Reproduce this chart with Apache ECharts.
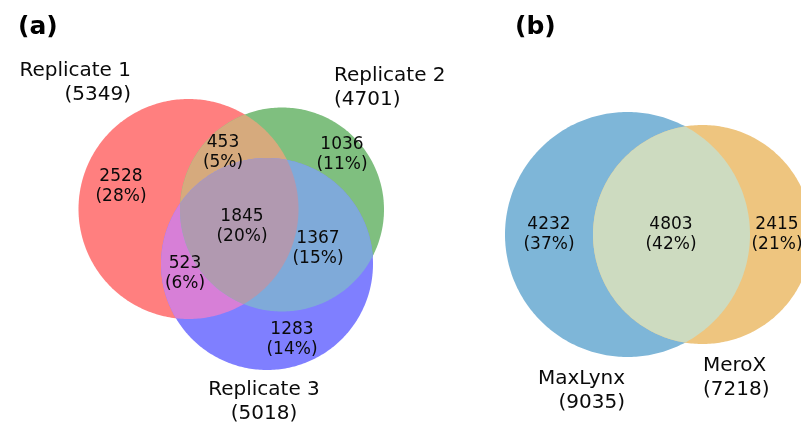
<!DOCTYPE html>
<html>
<head>
<meta charset="utf-8">
<script src="https://cdn.jsdelivr.net/npm/echarts@6/dist/echarts.min.js"></script>
<style>
  html, body { margin: 0; padding: 0; background: #fff; }
  #main { width: 801px; height: 423px; }
</style>
</head>
<body>
<div id="main"></div>
<script>
// panel (a): three replicates
const setNamesA = ['Replicate 1', 'Replicate 2', 'Replicate 3'];
const setTotalsA = [5349, 4701, 5018];
// regions: 1 only, 1&2, 2 only, 1&2&3, 2&3, 1&3, 3 only
const regionCountsA = [2528, 453, 1036, 1845, 1367, 523, 1283];
const regionPctA = [28, 5, 11, 20, 15, 6, 14];

// panel (b): two search engines
const setNamesB = ['MaxLynx', 'MeroX'];
const setTotalsB = [9035, 7218];
// regions: MaxLynx only, both, MeroX only
const regionCountsB = [4232, 4803, 2415];
const regionPctB = [37, 42, 21];

// layout (axis units = px)
const circlesA = [
  { x: 188.5, y: 209, r: 110 },
  { x: 282, y: 209.5, r: 102 },
  { x: 267, y: 264, r: 106 }
];
const circlesB = [
  { x: 627.5, y: 234.5, r: 122.5 },
  { x: 702.5, y: 234.5, r: 109.5 }
];
// painting order: whole circles, then pair overlaps, then the triple
const paintA = [
  { sets: [0], color: '#ff7f7f' },
  { sets: [1], color: '#7fbf7f' },
  { sets: [2], color: '#7f7fff' },
  { sets: [0, 1], color: '#d6aa7d' },
  { sets: [0, 2], color: '#d77fd7' },
  { sets: [1, 2], color: '#7faad9' },
  { sets: [0, 1, 2], color: '#b199b0' }
];
const paintB = [
  { sets: [0], color: '#7eb6d8' },
  { sets: [1], color: '#eec57f' },
  { sets: [0, 1], color: '#cddbc0' }
];
const regionPosA = [[121, 187], [223, 153], [342, 155], [242, 227], [318, 249], [185, 274], [292, 340]];
const regionPosB = [[549, 235], [671, 235], [777, 235]];
const setLabelPos = [
  { x: 131, y: 83, align: 'right' },
  { x: 334, y: 88, align: 'left' },
  { x: 264, y: 402, align: 'center' },
  { x: 625, y: 391, align: 'right' },
  { x: 703, y: 378, align: 'left' }
];

const FONT = 'DejaVu Sans';

function inCircle(p, c, tol) {
  return Math.hypot(p[0] - c.x, p[1] - c.y) <= c.r + tol;
}

function crossPoints(a, b) {
  const dx = b.x - a.x, dy = b.y - a.y;
  const d = Math.hypot(dx, dy);
  if (d > a.r + b.r || d < Math.abs(a.r - b.r)) return [];
  const l = (d * d + a.r * a.r - b.r * b.r) / (2 * d);
  const h = Math.sqrt(Math.max(0, a.r * a.r - l * l));
  const mx = a.x + dx * l / d, my = a.y + dy * l / d;
  return [[mx - dy * h / d, my + dx * h / d], [mx + dy * h / d, my - dx * h / d]];
}

// intersection of circles is convex: collect boundary samples and sort by angle
function regionOutline(cs) {
  const pts = [];
  cs.forEach((c, i) => {
    for (let k = 0; k < 360; k++) {
      const t = k * Math.PI / 180;
      const p = [c.x + c.r * Math.cos(t), c.y + c.r * Math.sin(t)];
      if (cs.every((o, j) => j === i || inCircle(p, o, 0))) pts.push(p);
    }
  });
  for (let i = 0; i < cs.length; i++) {
    for (let j = i + 1; j < cs.length; j++) {
      crossPoints(cs[i], cs[j]).forEach(p => {
        if (cs.every((o, k) => k === i || k === j || inCircle(p, o, 1e-6))) pts.push(p);
      });
    }
  }
  const cx = pts.reduce((s, p) => s + p[0], 0) / pts.length;
  const cy = pts.reduce((s, p) => s + p[1], 0) / pts.length;
  pts.sort((p, q) => Math.atan2(p[1] - cy, p[0] - cx) - Math.atan2(q[1] - cy, q[0] - cx));
  return pts;
}

function vennSeries(circles, paint) {
  return {
    type: 'custom',
    coordinateSystem: 'cartesian2d',
    silent: true,
    z: 1,
    data: paint.map((p, i) => [i]),
    renderItem: (params, api) => {
      const reg = paint[params.dataIndex];
      const pts = regionOutline(reg.sets.map(i => circles[i])).map(p => api.coord(p));
      return { type: 'polygon', shape: { points: pts }, style: { fill: reg.color } };
    }
  };
}

const regionTexts = []
  .concat(regionCountsA.map((v, i) => ({ pos: regionPosA[i], text: v + '\n(' + regionPctA[i] + '%)' })))
  .concat(regionCountsB.map((v, i) => ({ pos: regionPosB[i], text: v + '\n(' + regionPctB[i] + '%)' })));

const setTexts = setNamesA.concat(setNamesB).map((n, i) => ({
  name: n,
  total: setTotalsA.concat(setTotalsB)[i],
  place: setLabelPos[i]
}));

const chart = echarts.init(document.getElementById('main'), null, { renderer: 'canvas' });
chart.setOption({
  animation: false,
  backgroundColor: '#fff',
  title: [
    { text: '(a)', left: 13, top: 10, textStyle: { fontFamily: FONT, fontWeight: 'bold', fontSize: 25, color: '#000' } },
    { text: '(b)', left: 510, top: 10, textStyle: { fontFamily: FONT, fontWeight: 'bold', fontSize: 25, color: '#000' } }
  ],
  grid: { left: 0, right: 0, top: 0, bottom: 0 },
  xAxis: { type: 'value', min: 0, max: 801, show: false },
  yAxis: { type: 'value', min: 0, max: 423, inverse: true, show: false },
  series: [
    vennSeries(circlesA, paintA),
    vennSeries(circlesB, paintB),
    {
      type: 'custom',
      coordinateSystem: 'cartesian2d',
      silent: true,
      z: 5,
      data: regionTexts.map((t, i) => [i]),
      renderItem: (params, api) => {
        const t = regionTexts[params.dataIndex];
        const p = api.coord(t.pos);
        return {
          type: 'text', x: p[0], y: p[1],
          style: { text: t.text, fill: '#0a0a0a', font: '17px "' + FONT + '"', align: 'center', verticalAlign: 'middle', lineHeight: 20 }
        };
      }
    },
    {
      type: 'custom',
      coordinateSystem: 'cartesian2d',
      silent: true,
      z: 5,
      data: setTexts.map((t, i) => [i]),
      renderItem: (params, api) => {
        const t = setTexts[params.dataIndex];
        const p = api.coord([t.place.x, t.place.y]);
        return {
          type: 'text', x: p[0], y: p[1],
          style: { text: t.name + '\n(' + t.total + ')', fill: '#0a0a0a', font: '20px "' + FONT + '"', align: t.place.align, verticalAlign: 'middle', lineHeight: 24 }
        };
      }
    }
  ]
});
</script>
</body>
</html>
